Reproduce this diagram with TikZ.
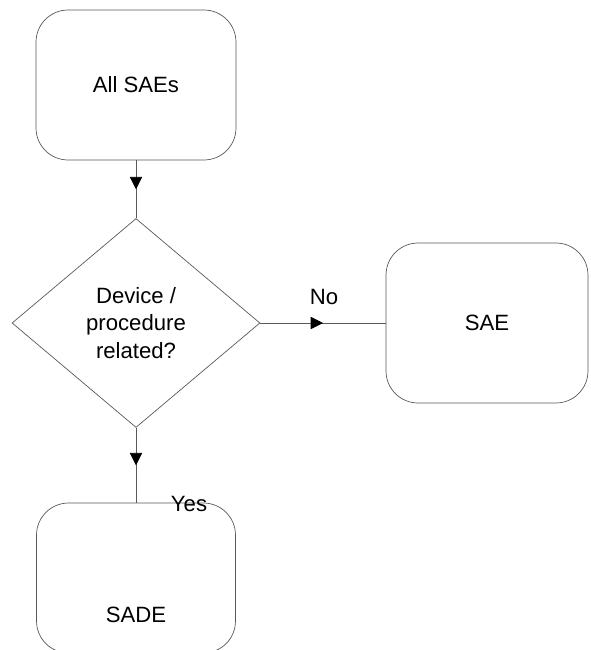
\documentclass[tikz,border=0pt]{standalone}
\usepackage{fontspec}
\setmainfont{Liberation Sans}
\usetikzlibrary{shapes.geometric,arrows.meta,decorations.markings}

\begin{document}
\begin{tikzpicture}[x=0.02cm,y=-0.02cm,
 every node/.style={font=\fontsize{12.6}{15.6}\selectfont},
 box/.style={draw=black!65,rounded corners=0.64cm,minimum width=4cm,minimum height=3cm,inner sep=0pt},
 dec/.style={diamond,draw=black!65,minimum width=4.96cm,minimum height=4.18cm,inner sep=0pt,align=center},
 flow/.style={draw=black!65,postaction={decorate},decoration={markings,
   mark=at position 0.5 with {\arrow[black]{Triangle[length=7pt,width=7pt]}}}},
 lab/.style={inner sep=0pt}]
\useasboundingbox (0,0) rectangle (591,650);
\node[box] (all) at (136,85) {All SAEs};
\node[dec] (rel) at (136,323) {Device /\\procedure\\related?};
\node[box,minimum width=4.04cm,minimum height=3.2cm] (sae) at (487,323) {SAE};
\node[box,minimum width=3.98cm,minimum height=3cm] (sade) at (136,578) {};
\node[lab] (sadet) at (136,615) {SADE};
\draw[flow] (all) -- (rel);
\draw[flow] (rel) -- (sae);
\draw[flow] (rel) -- (sade);
\node[lab] (no) at (324,297) {No};
\node[lab] (yes) at (189,504) {Yes};
\end{tikzpicture}
\end{document}
